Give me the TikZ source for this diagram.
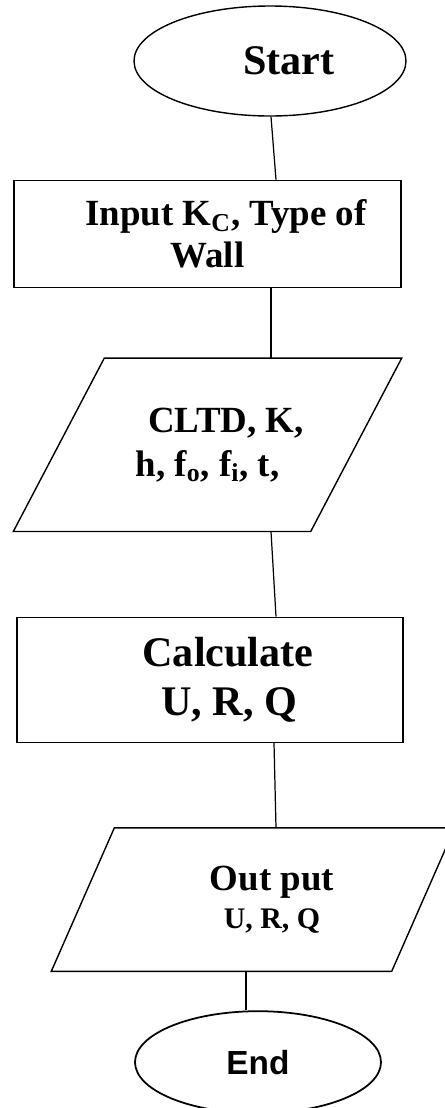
\documentclass[tikz,border=0pt]{standalone}
\usepackage{fontspec}
\setmainfont{Liberation Serif}
\newfontfamily\endfont{Liberation Sans}
\usepackage{tikz}
\usetikzlibrary{positioning, shapes.geometric}

\begin{document}
\begin{tikzpicture}[
  line width=0.8pt,
  every node/.style={font=\bfseries}
]
\tikzset{
  term/.style   ={ellipse, draw=black, inner sep=0pt},
  proc/.style   ={rectangle, draw=black, align=center, inner sep=0pt,
                  minimum width=7.74cm},
  io/.style     ={rectangle, align=center, inner sep=0pt},
  link/.style   ={-, line width=0.7pt}
}
\useasboundingbox (0,0) rectangle (8.9,-22.16);

%% ----- Start, input -----
\node[term, minimum width=5.44cm, minimum height=2.2cm,
      font=\bfseries\fontsize{24}{28}\selectfont] (start) at (5.40,-1.22)
  {\hspace*{0.76cm}Start};
\node[proc, below=1.26cm of start, xshift=-1.25cm, minimum height=2.14cm,
      font=\bfseries\fontsize{21}{24}\selectfont] (input)
  {\hspace*{0.74cm}Input K\textsubscript{C}, Type of\\Wall};
\draw[link] ([xshift=0.02cm]start.south) -- ([xshift=1.37cm]input.north);

%% ----- Data, calculation -----
\node[io, below=1.4cm of input, minimum width=5.92cm, minimum height=3.44cm,
      font=\bfseries\fontsize{21}{25}\selectfont] (data)
  {\hspace*{0.74cm}CLTD, K,\\h, f\textsubscript{o}, f\textsubscript{i}, t,};
\draw[link] ([xshift=1.27cm]input.south) -- ([xshift=1.27cm]data.north);

\node[proc, below=1.7cm of data, xshift=0.05cm, minimum width=7.72cm,
      minimum height=2.5cm,
      font=\bfseries\fontsize{24}{28}\selectfont] (calc)
  {\hspace*{0.72cm}Calculate\\\hspace*{0.76cm}U, R, Q};
\draw[link] ([xshift=1.27cm]data.south) -- ([xshift=1.32cm]calc.north);

%% ----- Output, end -----
\node[io, below=1.7cm of calc, xshift=0.86cm, minimum width=6.78cm,
      minimum height=2.84cm,
      font=\bfseries\fontsize{21}{22}\selectfont] (out)
  {\hspace*{0.76cm}Out put\\\hspace*{0.76cm}{\fontsize{17}{20}\selectfont U, R, Q}};
\draw[link] ([xshift=1.28cm]calc.south) -- ([xshift=0.46cm]out.north);

\node[term, below=0.78cm of out, xshift=0.1cm, minimum width=4.92cm,
      minimum height=2.04cm, line width=1pt,
      font=\endfont\bfseries\fontsize{19}{22}\selectfont] (stop)
  {End};
\draw[link] ([xshift=-0.14cm]out.south) -- ([xshift=-0.24cm]stop.north);

%% ----- Slanted outlines of the data boxes -----
\foreach \n/\sl in {data/0.91cm, out/0.63cm}
  \draw ([xshift=\sl]\n.north west) -- ([xshift=\sl]\n.north east)
    -- ([xshift=-\sl]\n.south east) -- ([xshift=-\sl]\n.south west) -- cycle;

\end{tikzpicture}
\end{document}
